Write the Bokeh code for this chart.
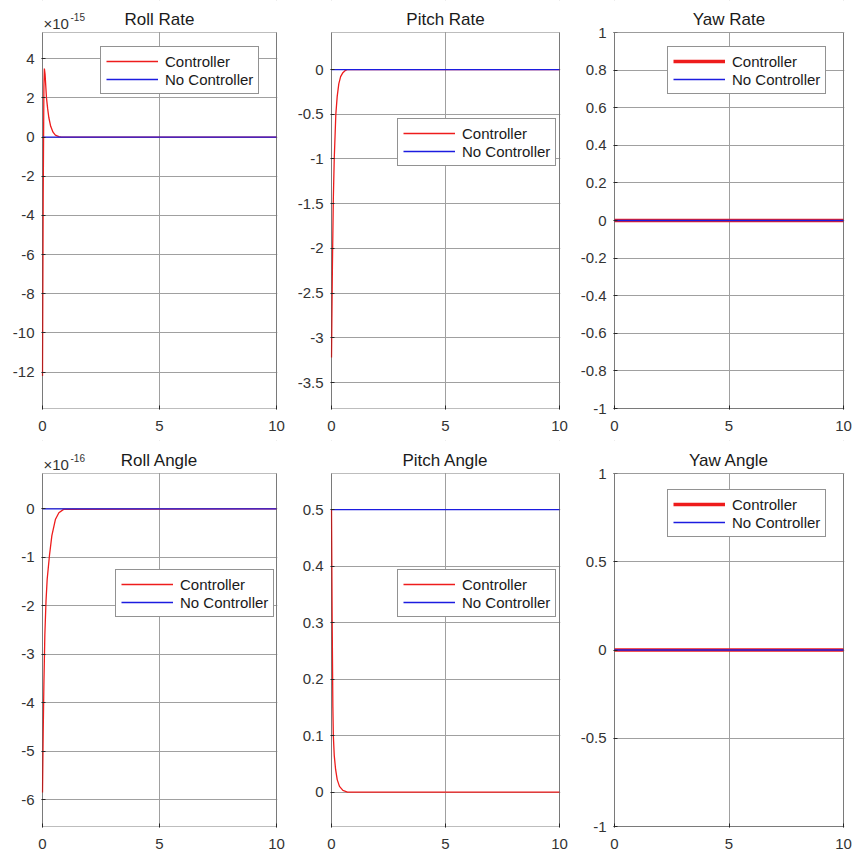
from bokeh.plotting import figure
from bokeh.layouts import column, row
from bokeh.models import BoxAnnotation, FixedTicker, Label, Range1d
from bokeh.embed import file_html
from bokeh.resources import INLINE

# ---- simulation traces (time in s) ----
# Roll rate, values in units of 1e-15
roll_rate_t = [0, 0.03, 0.06, 0.08, 0.11, 0.17, 0.22, 0.27, 0.35, 0.45, 0.55, 0.7, 0.8, 10]
roll_rate_ctrl = [-12.2, -3.0, 2.6, 3.5, 3.2, 2.0, 1.45, 1.0, 0.55, 0.25, 0.1, 0.02, 0.0, 0.0]
roll_rate_free_t = [0, 10]
roll_rate_free = [0.0, 0.0]

# Pitch rate
pitch_rate_t = [0, 0.04, 0.08, 0.12, 0.19, 0.25, 0.32, 0.4, 0.5, 0.6, 0.7, 10]
pitch_rate_ctrl = [-3.22, -2.2, -1.45, -1.0, -0.5, -0.3, -0.16, -0.08, -0.035, -0.012, 0.0, 0.0]
pitch_rate_free_t = [0, 10]
pitch_rate_free = [0.0, 0.0]

# Yaw rate
yaw_rate_t = [0, 10]
yaw_rate_ctrl = [0.0, 0.0]
yaw_rate_free_t = [0, 10]
yaw_rate_free = [0.0, 0.0]

# Roll angle, values in units of 1e-16
roll_angle_t = [0, 0.03, 0.06, 0.1, 0.15, 0.2, 0.3, 0.4, 0.55, 0.7, 0.9, 10]
roll_angle_ctrl = [-5.85, -4.6, -3.6, -2.6, -1.9, -1.45, -0.95, -0.55, -0.22, -0.08, -0.01, 0.0]
roll_angle_free_t = [0, 10]
roll_angle_free = [0.0, 0.0]

# Pitch angle
pitch_angle_t = [0, 0.03, 0.06, 0.08, 0.12, 0.18, 0.25, 0.35, 0.5, 0.7, 10]
pitch_angle_ctrl = [0.5, 0.3, 0.15, 0.1, 0.065, 0.04, 0.022, 0.01, 0.003, 0.0, 0.0]
pitch_angle_free_t = [0, 10]
pitch_angle_free = [0.5, 0.5]

# Yaw angle
yaw_angle_t = [0, 10]
yaw_angle_ctrl = [0.0, 0.0]
yaw_angle_free_t = [0, 10]
yaw_angle_free = [0.0, 0.0]

# ---- axis settings ----
x_lim = (0, 10)
x_ticks = [0, 5, 10]
roll_rate_lim = (-13.86, 5.34)
roll_rate_ticks = [-12, -10, -8, -6, -4, -2, 0, 2, 4]
pitch_rate_lim = (-3.79, 0.414)
pitch_rate_ticks = [-3.5, -3, -2.5, -2, -1.5, -1, -0.5, 0]
yaw_rate_lim = (-1, 1)
yaw_rate_ticks = [-1, -0.8, -0.6, -0.4, -0.2, 0, 0.2, 0.4, 0.6, 0.8, 1]
roll_angle_lim = (-6.55, 0.73)
roll_angle_ticks = [-6, -5, -4, -3, -2, -1, 0]
pitch_angle_lim = (-0.061, 0.564)
pitch_angle_ticks = [0, 0.1, 0.2, 0.3, 0.4, 0.5]
yaw_angle_lim = (-1, 1)
yaw_angle_ticks = [-1, -0.5, 0, 0.5, 1]

FONT = "Liberation Sans"
INK = "#262626"
LABEL_INK = "#333333"
RED = "#ee1c1c"
BLUE = "#1c1ce0"
GRID = "#a0a0a0"


def fmt(v):
    return f"{v:g}"


def panel(title, t_c, y_c, t_f, y_f, ylim, yticks, legend_xy, cols, rows,
          text_dy, ctrl_width=1.3, exponent=None):
    """One axes box with its title strip on top.

    The plotting frame is one pixel wider than the axes box on the left, right and
    bottom, and reaches up through the title strip, so the box edges and the title
    texts all sit inside the frame.
    """
    left, fw, right = cols
    head, fh, bottom = rows
    x0, x1 = x_lim
    y0, y1 = ylim
    dx = (x1 - x0) / fw          # data units per pixel
    dy = (y1 - y0) / fh
    p = figure(frame_width=fw + 2, frame_height=head + fh + 1,
               min_border_left=left - 1, min_border_right=right - 1,
               min_border_top=0, min_border_bottom=bottom - 1,
               x_range=Range1d(x0 - dx, x1 + dx),
               y_range=Range1d(y0 - dy, y1 + head * dy),
               output_backend="svg", toolbar_location=None,
               background_fill_color="white", border_fill_color="white",
               outline_line_color=None)

    for ax, ticks in ((p.xaxis[0], x_ticks), (p.yaxis[0], yticks)):
        ax.ticker = FixedTicker(ticks=ticks)
        ax.major_label_overrides = {v: fmt(v) for v in ticks}
        ax.axis_line_color = None
        ax.major_tick_in = 4
        ax.major_tick_out = 0
        ax.major_tick_line_color = INK
        ax.minor_tick_in = 0
        ax.minor_tick_out = 0
        ax.minor_tick_line_color = None
        ax.major_label_text_font = FONT
        ax.major_label_text_font_size = "15px"
        ax.major_label_text_color = LABEL_INK
    p.xaxis[0].major_label_standoff = 11
    p.yaxis[0].major_label_standoff = 7

    p.xgrid.ticker = FixedTicker(ticks=x_ticks)
    p.ygrid.ticker = FixedTicker(ticks=yticks)
    for g in (p.xgrid[0], p.ygrid[0]):
        g.grid_line_color = GRID
        g.grid_line_width = 1

    p.line(t_c, y_c, line_color=RED, line_width=ctrl_width, legend_label="Controller")
    p.line(t_f, y_f, line_color=BLUE, line_width=1.3, legend_label="No Controller")

    # blank title strip above the axes box, then the box outline itself
    p.add_layout(BoxAnnotation(left=x0 - dx, right=x1 + dx, bottom=y1, top=y1 + head * dy,
                               fill_color="white", fill_alpha=1, line_color=None,
                               level="annotation"))
    p.add_layout(BoxAnnotation(left=x0, right=x1, bottom=y0, top=y1,
                               fill_alpha=0, line_color=INK, line_width=1,
                               level="annotation"))

    title_dy, exp_dy = text_dy
    p.add_layout(Label(x=(x0 + x1) / 2, y=y1, y_offset=title_dy, text=title,
                       text_font=FONT, text_font_size="17px", text_color="#1a1a1a",
                       text_align="center", text_baseline="alphabetic"))
    if exponent is not None:
        p.add_layout(Label(x=x0, y=y1, x_offset=1, y_offset=exp_dy, text="×10",
                           text_font=FONT, text_font_size="15px", text_color=LABEL_INK,
                           text_align="left", text_baseline="alphabetic"))
        p.add_layout(Label(x=x0, y=y1, x_offset=28, y_offset=exp_dy + 7, text=exponent,
                           text_font=FONT, text_font_size="10px", text_color=LABEL_INK,
                           text_align="left", text_baseline="alphabetic"))

    lg = p.legend[0]
    lg.location = (legend_xy[0] + 1, legend_xy[1] + 1)
    lg.label_text_font = FONT
    lg.label_text_font_size = "15px"
    lg.label_text_color = "#1a1a1a"
    lg.glyph_width = 52
    lg.glyph_height = 18
    lg.label_height = 18
    lg.label_standoff = 7
    lg.padding = 5
    lg.spacing = 0
    lg.margin = 0
    lg.border_line_color = INK
    lg.border_line_width = 1
    lg.background_fill_color = "white"
    lg.background_fill_alpha = 1
    return p


# column borders: (left border, axes width, right border)
c1, c2, c3 = (42, 234, 14), (41, 228, 14), (41, 229, 10)
# rows: (title strip height, axes height, bottom border)
r1, r2 = (32, 376, 32), (33, 353, 32)
t1, t2 = (13, 9), (13, 9)   # text lifts above the axes box (title, multiplier)

p1 = panel("Roll Rate", roll_rate_t, roll_rate_ctrl, roll_rate_free_t, roll_rate_free,
           roll_rate_lim, roll_rate_ticks, (58, 314), c1, r1, t1, exponent="-15")
p2 = panel("Pitch Rate", pitch_rate_t, pitch_rate_ctrl, pitch_rate_free_t, pitch_rate_free,
           pitch_rate_lim, pitch_rate_ticks, (66, 242), c2, r1, t1)
p3 = panel("Yaw Rate", yaw_rate_t, yaw_rate_ctrl, yaw_rate_free_t, yaw_rate_free,
           yaw_rate_lim, yaw_rate_ticks, (53, 314), c3, r1, t1, ctrl_width=3.5)
p4 = panel("Roll Angle", roll_angle_t, roll_angle_ctrl, roll_angle_free_t, roll_angle_free,
           roll_angle_lim, roll_angle_ticks, (73, 209), c1, r2, t2, exponent="-16")
p5 = panel("Pitch Angle", pitch_angle_t, pitch_angle_ctrl, pitch_angle_free_t, pitch_angle_free,
           pitch_angle_lim, pitch_angle_ticks, (66, 209), c2, r2, t2)
p6 = panel("Yaw Angle", yaw_angle_t, yaw_angle_ctrl, yaw_angle_free_t, yaw_angle_free,
           yaw_angle_lim, yaw_angle_ticks, (53, 289), c3, r2, t2, ctrl_width=3.5)

layout = column(row(p1, p2, p3, spacing=0), row(p4, p5, p6, spacing=0), spacing=0)

open("out.html", "w").write(file_html(layout, INLINE))
